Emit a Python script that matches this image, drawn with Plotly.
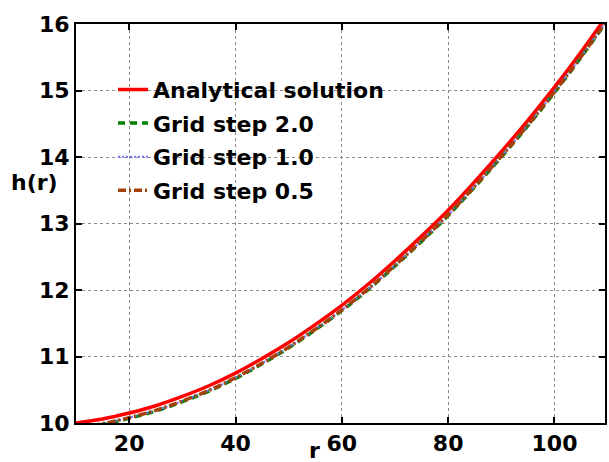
import plotly.graph_objects as go

# ---- data ----
r_values = [10, 15, 20, 25, 30, 35, 40, 45, 50, 55, 60, 65, 70, 75, 80, 85, 90, 95, 100, 105, 110]
h_analytical = [10.00, 10.06, 10.15, 10.26, 10.40, 10.56, 10.75, 10.97, 11.21, 11.48, 11.77,
                12.09, 12.44, 12.81, 13.20, 13.63, 14.08, 14.55, 15.05, 15.58, 16.14]
h_step_2_0 = [9.92, 9.98, 10.07, 10.18, 10.32, 10.48, 10.67, 10.89, 11.13, 11.40, 11.69,
              12.01, 12.36, 12.73, 13.12, 13.55, 14.00, 14.47, 14.97, 15.50, 16.06]
h_step_1_0 = [9.93, 9.99, 10.08, 10.19, 10.33, 10.49, 10.68, 10.90, 11.14, 11.41, 11.70,
              12.02, 12.37, 12.74, 13.13, 13.56, 14.01, 14.48, 14.98, 15.51, 16.07]
h_step_0_5 = [9.93, 9.99, 10.08, 10.19, 10.33, 10.49, 10.68, 10.90, 11.14, 11.41, 11.70,
              12.02, 12.37, 12.74, 13.13, 13.56, 14.01, 14.48, 14.98, 15.51, 16.07]

series_names = ["Analytical solution", "Grid step 2.0", "Grid step 1.0", "Grid step 0.5"]
x_ticks = [20, 40, 60, 80, 100]
y_ticks = [10, 11, 12, 13, 14, 15, 16]

FONT = "DejaVu Sans"

fig = go.Figure()
styles = [
    (h_analytical, dict(color="#ff0000", width=3.5, dash="solid")),
    (h_step_2_0, dict(color="#008000", width=3.5, dash="7px,5px")),
    (h_step_1_0, dict(color="#7070ff", width=2, dash="2px,2px")),
    (h_step_0_5, dict(color="#a3400c", width=3.5, dash="8px,3px,2px,3px")),
]
for i, (vals, line) in enumerate(styles):
    fig.add_trace(go.Scatter(
        x=r_values, y=vals, mode="lines", name=series_names[i],
        line=dict(shape="spline", **line), legendgroup=f"g{i}",
    ))

axis_common = dict(
    showline=True, linecolor="black", linewidth=2, mirror="ticks",
    ticks="inside", ticklen=6, tickwidth=2, tickcolor="black",
    showgrid=True, gridcolor="#8a8a8a", gridwidth=1, griddash="dot",
    zeroline=False,
    tickfont=dict(family=FONT, size=22, color="black", weight="bold"),
)
fig.update_xaxes(range=[10, 109.5], tickvals=x_ticks, ticktext=[str(v) for v in x_ticks], **axis_common)
fig.update_yaxes(range=[10, 16], tickvals=y_ticks, ticktext=[str(v) for v in y_ticks], **axis_common)

fig.add_annotation(text="h(r)", xref="paper", yref="paper", x=-0.078, y=0.602,
                   xanchor="center", yanchor="middle", showarrow=False,
                   font=dict(family=FONT, size=22, color="black", weight="bold"))
fig.add_annotation(text="r", xref="x", yref="paper", x=54.8, y=-0.068,
                   xanchor="center", yanchor="middle", showarrow=False,
                   font=dict(family=FONT, size=22, color="black", weight="bold"))

fig.update_layout(
    width=609, height=462,
    margin=dict(l=76, r=2, t=24, b=39),
    paper_bgcolor="white", plot_bgcolor="white",
    showlegend=True,
    legend=dict(x=0.07, y=0.888, xanchor="left", yanchor="top",
                bgcolor="rgba(0,0,0,0)", borderwidth=0, tracegroupgap=2,
                font=dict(family=FONT, size=22, color="black", weight="bold")),
)

fig.write_html("out.html", config={"displayModeBar": False},
               post_script="document.body.style.margin='0';document.body.style.overflow='hidden';")
